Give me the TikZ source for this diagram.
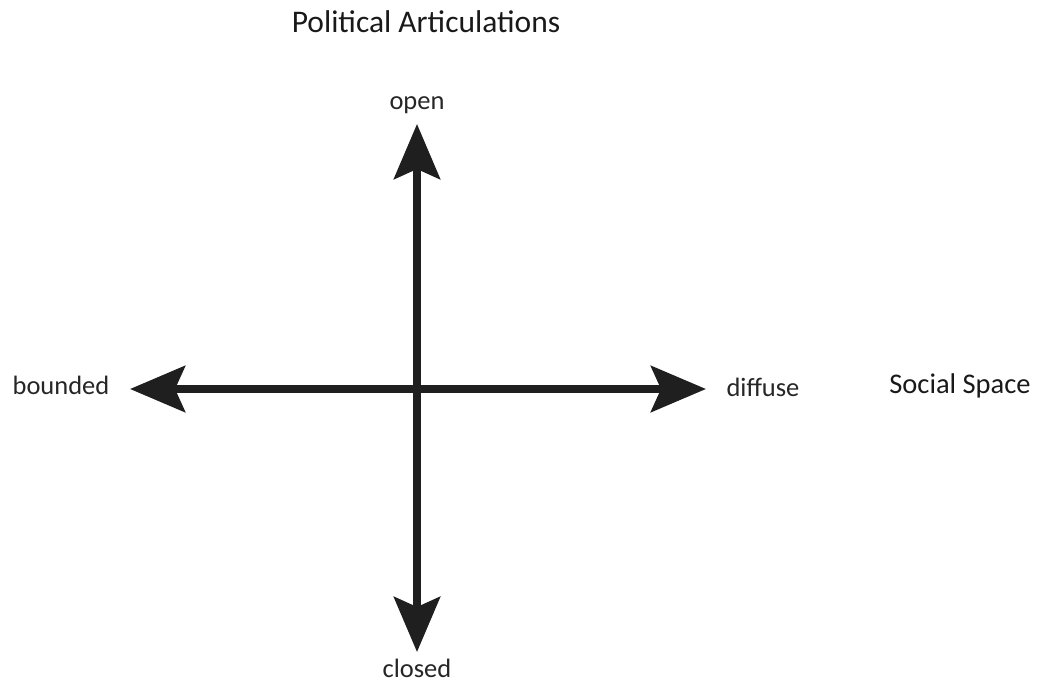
\documentclass[tikz,border=0pt]{standalone}
\usepackage{fontspec}
\setmainfont{Carlito}
\usetikzlibrary{arrows.meta}
\tikzset{
  axis/.style={line width=8pt, color=black!88,
    {Stealth[length=55pt,width=46pt,inset=10pt]}-{Stealth[length=55pt,width=46pt,inset=10pt]}},
  lbl/.style={font=\fontsize{26.5}{30}\selectfont, text=black!85, inner sep=0pt, anchor=base},
  title/.style={font=\fontsize{31.5}{36}\selectfont, text=black!90, inner sep=0pt, anchor=base}
}
\begin{document}
\begin{tikzpicture}[x=1pt,y=-1pt]
\useasboundingbox (0,0) rectangle (1048,687);
\coordinate (top) at (417,124);
\coordinate (bot) at (417,652);
\coordinate (lft) at (130,389);
\coordinate (rgt) at (706,389);
\draw[axis] (bot) -- (top);
\draw[axis] (lft) -- (rgt);
\node[title] (ttl) at (426,33) {Political Articulations};
\node[title, font=\fontsize{28.5}{32}\selectfont] (soc) at (960,393) {Social Space};
\node[lbl] (open) at (417,110) {open};
\node[lbl] (closed) at (417,677) {closed};
\node[lbl] (bounded) at (61,394) {bounded};
\node[lbl] (diffuse) at (763,396) {diffuse};
\end{tikzpicture}
\end{document}
